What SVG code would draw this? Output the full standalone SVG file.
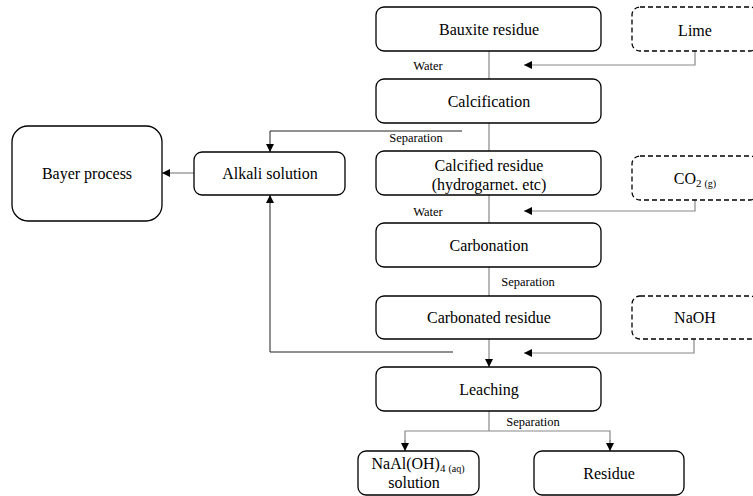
<svg xmlns="http://www.w3.org/2000/svg" width="753" height="496" viewBox="0 0 753 496">
<style>
.box{fill:#fff;stroke:#000;stroke-width:1.3}
.dash{fill:#fff;stroke:#000;stroke-width:1.3;stroke-dasharray:5,3}
text{font-family:'Liberation Serif','Times New Roman','DejaVu Serif','Noto Serif',serif;fill:#000;text-anchor:middle}
.t{font-size:16px}
.s{font-size:12.5px}
.g{fill:none;stroke:#888;stroke-width:1.2}
.k{fill:none;stroke:#222;stroke-width:1}
</style>
<defs>
<marker id="ah" viewBox="0 0 10 10" refX="10" refY="5" markerWidth="8" markerHeight="8" markerUnits="userSpaceOnUse" orient="auto">
<path d="M0,0 L10,5 L0,10 Z" fill="#000"/>
</marker>
</defs>
<g id="connectors">
<line class="g" x1="489" y1="51" x2="489" y2="79"/>
<polyline class="g" points="695,51 695,65 524,65" marker-end="url(#ah)"/>
<line class="g" x1="489" y1="123" x2="489" y2="151"/>
<polyline class="k" points="462,131 270,131 270,152" marker-end="url(#ah)"/>
<line class="g" x1="194" y1="173" x2="162" y2="173" marker-end="url(#ah)"/>
<line class="g" x1="489" y1="195" x2="489" y2="223"/>
<polyline class="g" points="695,200 695,211 524,211" marker-end="url(#ah)"/>
<line class="g" x1="489" y1="267" x2="489" y2="296"/>
<line class="g" x1="489" y1="339" x2="489" y2="367" marker-end="url(#ah)"/>
<polyline class="g" points="694,339 694,353 524,353" marker-end="url(#ah)"/>
<polyline class="k" points="453,352 270,352 270,195" marker-end="url(#ah)"/>
<line class="g" x1="489" y1="411" x2="489" y2="431"/>
<polyline class="g" points="405,451 405,431 610,431 610,451"/>
<line class="g" x1="405" y1="440" x2="405" y2="451" marker-end="url(#ah)"/>
<line class="g" x1="610" y1="440" x2="610" y2="451" marker-end="url(#ah)"/>
<text class="s" x="428" y="70">Water</text>
<text class="s" x="416" y="142">Separation</text>
<text class="s" x="428" y="216">Water</text>
<text class="s" x="528" y="286">Separation</text>
<text class="s" x="533" y="426">Separation</text>
</g>
<g id="bauxite"><rect class="box" x="376" y="7" width="225" height="44" rx="8"/><text class="t" x="489" y="35">Bauxite residue</text></g>
<g id="lime"><rect class="dash" x="632" y="7" width="126" height="44" rx="8"/><text class="t" x="695" y="36">Lime</text></g>
<g id="calcification"><rect class="box" x="376" y="79" width="225" height="44" rx="8"/><text class="t" x="489" y="107">Calcification</text></g>
<g id="bayer"><rect class="box" x="12" y="126" width="150" height="95" rx="16"/><text class="t" x="87" y="179">Bayer process</text></g>
<g id="alkali"><rect class="box" x="194" y="152" width="151" height="43" rx="8"/><text class="t" x="270" y="179">Alkali solution</text></g>
<g id="calcified"><rect class="box" x="376" y="151" width="225" height="44" rx="8"/><text class="t" x="489" y="171">Calcified residue</text><text class="t" x="489" y="190">(hydrogarnet. etc)</text></g>
<g id="co2"><rect class="dash" x="632" y="156" width="126" height="44" rx="8"/><text class="t" x="695" y="184">CO<tspan font-size="11" dy="3">2</tspan><tspan font-size="10" dx="3">(g)</tspan></text></g>
<g id="carbonation"><rect class="box" x="376" y="223" width="225" height="44" rx="8"/><text class="t" x="489" y="251">Carbonation</text></g>
<g id="carbonated"><rect class="box" x="376" y="296" width="225" height="43" rx="8"/><text class="t" x="489" y="323">Carbonated residue</text></g>
<g id="naoh"><rect class="dash" x="632" y="296" width="126" height="43" rx="8"/><text class="t" x="695" y="323">NaOH</text></g>
<g id="leaching"><rect class="box" x="376" y="367" width="225" height="44" rx="8"/><text class="t" x="489" y="395">Leaching</text></g>
<g id="naaloh"><rect class="box" x="358" y="451" width="121" height="44" rx="8"/><text class="t" x="418" y="469">NaAl(OH)<tspan font-size="11" dy="3">4</tspan><tspan font-size="10" dx="3">(aq)</tspan></text><text class="t" x="414" y="488">solution</text></g>
<g id="residue"><rect class="box" x="534" y="451" width="150" height="44" rx="8"/><text class="t" x="609" y="479">Residue</text></g>
</svg>
